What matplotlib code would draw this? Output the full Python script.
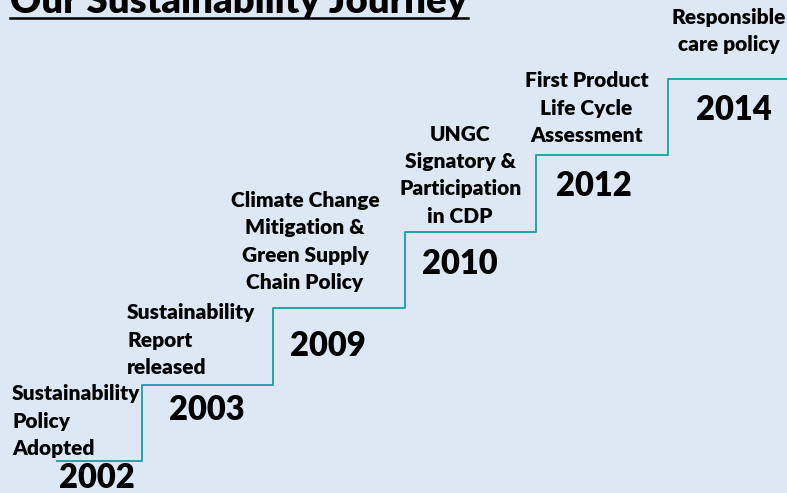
import matplotlib
matplotlib.use("Agg")
from matplotlib import pyplot as plt
from matplotlib.lines import Line2D

# milestones, one per step of the staircase
years = ["2002", "2003", "2009", "2010", "2012", "2014"]
levels = [1, 2, 3, 4, 5, 6]
milestones = [
    "Sustainability\nPolicy\nAdopted",
    "Sustainability\nReport\nreleased",
    "Climate Change\nMitigation &\nGreen Supply\nChain Policy",
    "UNGC\nSignatory &\nParticipation\nin CDP",
    "First Product\nLife Cycle\nAssessment",
    "Responsible\ncare policy",
]
title = "Our Sustainability Journey"

BG = "#dde8f4"
TEAL = "#27a3a6"
FONT = ["Lato", "DejaVu Sans"]


def main():
    fig = plt.figure(figsize=(7.87, 4.93), dpi=100)
    fig.patch.set_facecolor(BG)
    ax = fig.add_axes([0, 0, 1, 1])
    ax.set_facecolor(BG)
    ax.set_xlim(-0.0798, 5.905)
    ax.set_ylim(0.581, 7.034)
    ax.axis("off")

    # staircase: step i runs from i to i+1 at height levels[i]
    xs = [0.35] + list(range(1, len(levels))) + [len(levels) + 0.2]
    ys = levels + [levels[-1]]
    ax.step(xs, ys, where="post", color=TEAL, lw=1.4)

    # year labels under each tread
    year_pos = [(0.66, 0.78), (1.49, 1.67), (2.41, 2.51), (3.42, 3.58), (4.44, 4.60), (5.50, 5.59)]
    for yr, (x, y) in zip(years, year_pos):
        ax.text(x, y, yr, ha="center", va="center", fontsize=23.5,
                fontweight="heavy", family=FONT)

    # milestone descriptions above each tread
    desc_pos = [(0.0115, 1.52, "left"), (0.886, 2.58, "left"), (2.24, 3.87, "center"),
                (3.42, 4.74, "center"), (4.38, 5.62, "center"), (5.46, 6.63, "center")]
    for txt, (x, y, ha) in zip(milestones, desc_pos):
        ax.text(x, y, txt, ha=ha, va="center", fontsize=15, fontweight="heavy",
                family=FONT, linespacing=1.53, multialignment=ha)

    # title, partly cut off at the top edge, underlined
    fig.text(10 / 787, 1 - 13 / 493, title, ha="left", va="baseline",
             fontsize=27.5, fontweight="heavy", family=FONT)
    fig.add_artist(Line2D([10 / 787, 468 / 787], [1 - 18 / 493, 1 - 18 / 493],
                          color="black", lw=1.8))

    fig.savefig("out.png", dpi=100, facecolor=BG)


if __name__ == "__main__":
    main()
